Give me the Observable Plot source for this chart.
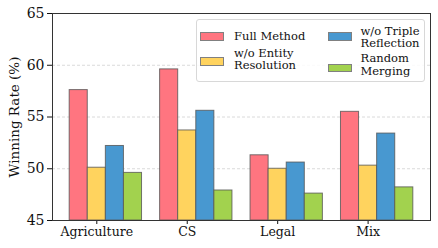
<!DOCTYPE html>
<html>
<head>
<meta charset="utf-8">
<script src="https://cdn.jsdelivr.net/npm/d3@7"></script>
<script src="https://cdn.jsdelivr.net/npm/@observablehq/plot@0.6"></script>
<style>
  html, body { margin: 0; padding: 0; background: #fff; }
  #wrap { position: relative; width: 438px; height: 248px; }
  #legend {
    position: absolute; left: 196px; top: 19px; width: 229px; height: 63px;
    box-sizing: border-box; border: 1px solid #d8d8d8; border-radius: 3px;
    background: rgba(255,255,255,0.85);
    font-family: "DejaVu Serif", "Liberation Serif", serif; font-size: 11.5px; line-height: 12.5px; color: #111;
  }
  .sw { position: absolute; width: 24px; height: 8.5px; box-sizing: border-box; border: 1px solid #808080; }
  .lt { position: absolute; white-space: nowrap; }
  svg text { font-family: "DejaVu Serif", "Liberation Serif", serif; }
</style>
</head>
<body>
<div id="wrap"><div id="legend"></div></div>
<script>
const categories = ["Agriculture", "CS", "Legal", "Mix"];
const methods = ["Full Method", "w/o Entity Resolution", "w/o Triple Reflection", "Random Merging"];
const legendLabels = [["Full Method"], ["w/o Entity", "Resolution"], ["w/o Triple", "Reflection"], ["Random", "Merging"]];
const colors = ["#FF7580", "#FFD35E", "#4898D0", "#A2D24E"];
const fullMethod = [57.6, 59.6, 51.3, 55.5];
const woEntity = [50.1, 53.7, 50.0, 50.3];
const woTriple = [52.2, 55.6, 50.6, 53.4];
const randomMerging = [49.6, 47.9, 47.6, 48.2];
const yTicks = [45, 50, 55, 60, 65];
const gridTicks = [50, 55, 60];

const series = [fullMethod, woEntity, woTriple, randomMerging];
const barWidth = 0.2;
const data = [];
categories.forEach((c, i) => {
  series.forEach((vals, j) => {
    data.push({
      category: c, method: methods[j], value: vals[i],
      x1: i + (j - 1.5) * barWidth, x2: i + (j - 0.5) * barWidth
    });
  });
});

const chart = Plot.plot({
  width: 438,
  height: 248,
  marginLeft: 52,
  marginRight: 8,
  marginTop: 13,
  marginBottom: 28,
  style: { fontFamily: "'DejaVu Serif', 'Liberation Serif', serif", fontSize: "13px", color: "#111", background: "transparent" },
  x: { domain: [-0.49, 3.69], label: null },
  y: { domain: [45, 65], label: null },
  color: { domain: methods, range: colors },
  marks: [
    Plot.gridY(gridTicks, { stroke: "#d0d0d0", strokeOpacity: 1, strokeDasharray: "3,2", strokeWidth: 0.8 }),
    Plot.rectY(data, { x1: "x1", x2: "x2", y1: 45, y2: "value", fill: "method", stroke: "#555", strokeOpacity: 0.8, strokeWidth: 1 }),
    Plot.axisX({ ticks: [0, 1, 2, 3], tickFormat: i => categories[i], tickSize: 4, tickPadding: 3, fontSize: 12.5, label: null }),
    Plot.axisY({ ticks: yTicks, tickSize: 5, tickPadding: 3, fontSize: 14, label: null }),
    Plot.frame({ stroke: "#333", strokeWidth: 1 })
  ]
});
document.getElementById("wrap").prepend(chart);

// y-axis label
const svg = d3.select(chart);
svg.append("text")
  .attr("transform", "translate(15,117) rotate(-90)")
  .attr("text-anchor", "middle")
  .attr("dominant-baseline", "middle")
  .attr("font-size", 13.5)
  .attr("fill", "#111")
  .text("Winning Rate (%)");

// legend (2 columns, column-major like matplotlib ncol=2)
const legend = document.getElementById("legend");
const swatchPos = [[3, 12], [3, 37], [130.5, 12], [130.5, 43.5]];
const textPos = [[37, 10.2], [37, 26.7], [163.5, 4.7], [163.5, 32.2]];
legendLabels.forEach((lines, j) => {
  const sw = document.createElement("div");
  sw.className = "sw";
  sw.style.left = swatchPos[j][0] + "px";
  sw.style.top = swatchPos[j][1] + "px";
  sw.style.background = colors[j];
  legend.appendChild(sw);
  const t = document.createElement("div");
  t.className = "lt";
  t.style.left = textPos[j][0] + "px";
  t.style.top = textPos[j][1] + "px";
  t.innerHTML = lines.join("<br>");
  legend.appendChild(t);
});
</script>
</body>
</html>
